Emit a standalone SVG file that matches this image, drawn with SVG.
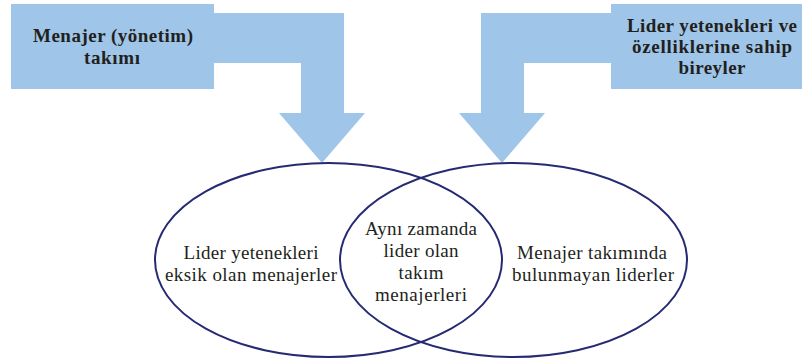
<svg xmlns="http://www.w3.org/2000/svg" width="802" height="361" viewBox="0 0 802 361">
  <style>
    .box { fill: #9fc6e9; }
    .flow { fill: #9fc6e9; }
    .set { fill: none; stroke: #252a72; stroke-width: 2; }
    .hd { font-family: "Liberation Serif", "DejaVu Serif", serif; font-size: 19px; font-weight: bold; fill: #231f20; text-anchor: middle; }
    .lb { font-family: "Liberation Serif", "DejaVu Serif", serif; font-size: 19px; fill: #231f20; text-anchor: middle; }
  </style>
  <rect width="802" height="361" fill="#ffffff"/>

  <!-- block arrows feeding the two sets -->
  <g id="connectors">
    <polygon class="flow" points="214,13 344,13 344,113 365,113 322,163 279,113 301,113 301,63 214,63"/>
    <polygon class="flow" points="611,13 481,13 481,113 459,113 502,163 545,113 524,113 524,63 611,63"/>
  </g>

  <g id="managers-box">
    <rect class="box" x="11" y="4" width="203" height="85"/>
    <text class="hd" x="113" y="42" textLength="160">Menajer (yönetim)</text>
    <text class="hd" x="112" y="64" textLength="56">takımı</text>
  </g>

  <g id="leaders-box">
    <rect class="box" x="611" y="4" width="191" height="85"/>
    <text class="hd" x="712" y="32" textLength="170">Lider yetenekleri ve</text>
    <text class="hd" x="712" y="53" textLength="160">özelliklerine sahip</text>
    <text class="hd" x="712" y="74" textLength="67">bireyler</text>
  </g>

  <g id="managers-set">
    <ellipse class="set" cx="328.5" cy="260" rx="173.5" ry="97"/>
    <text class="lb" x="251" y="259" textLength="135">Lider yetenekleri</text>
    <text class="lb" x="251" y="281" textLength="172">eksik olan menajerler</text>
  </g>

  <g id="leaders-set">
    <ellipse class="set" cx="513.5" cy="260" rx="173.5" ry="97"/>
    <text class="lb" x="592" y="259" textLength="150">Menajer takımında</text>
    <text class="lb" x="593" y="281" textLength="162">bulunmayan liderler</text>
  </g>

  <g id="overlap">
    <text class="lb" x="421" y="235" textLength="112">Aynı zamanda</text>
    <text class="lb" x="421" y="257" textLength="75">lider olan</text>
    <text class="lb" x="421" y="279" textLength="45">takım</text>
    <text class="lb" x="421" y="301" textLength="92">menajerleri</text>
  </g>
</svg>
